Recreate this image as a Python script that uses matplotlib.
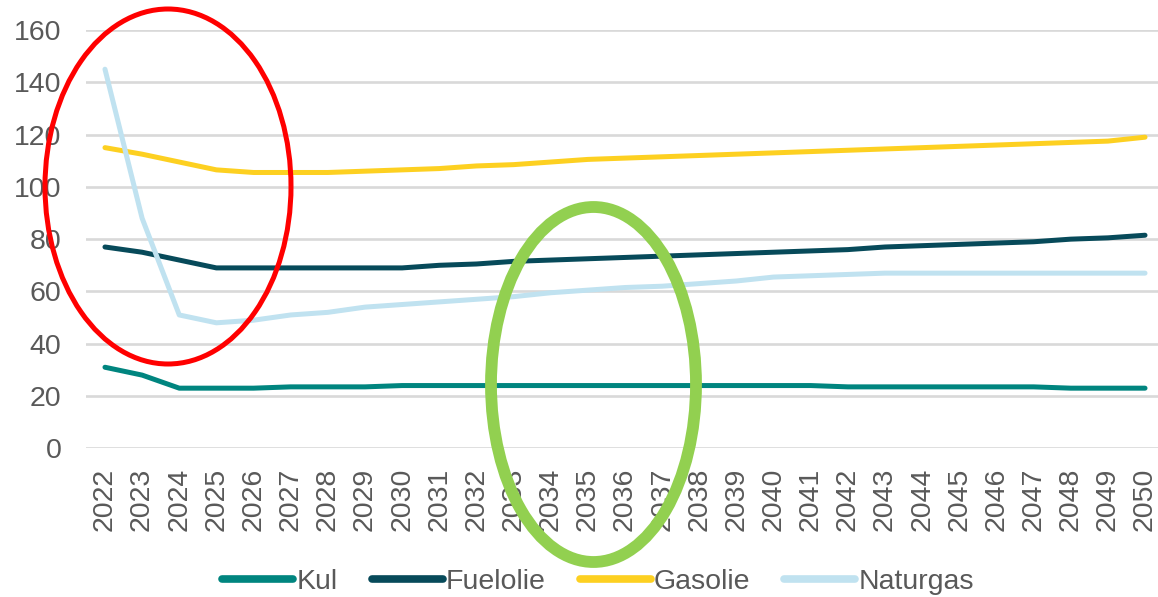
import matplotlib
matplotlib.use("Agg")
import matplotlib.pyplot as plt
from matplotlib.patches import Ellipse

years = list(range(2022, 2051))
kul = [31, 28, 23, 23, 23, 23.5, 23.5, 23.5, 24, 24, 24, 24, 24, 24, 24, 24, 24, 24, 24,
       24, 23.5, 23.5, 23.5, 23.5, 23.5, 23.5, 23, 23, 23]
fuelolie = [77, 75, 72, 69, 69, 69, 69, 69, 69, 70, 70.5, 71.5, 72, 72.5, 73, 73.5, 74,
            74.5, 75, 75.5, 76, 77, 77.5, 78, 78.5, 79, 80, 80.5, 81.5]
gasolie = [115, 112.5, 109.5, 106.5, 105.5, 105.5, 105.5, 106, 106.5, 107, 108, 108.5,
           109.5, 110.5, 111, 111.5, 112, 112.5, 113, 113.5, 114, 114.5, 115, 115.5, 116,
           116.5, 117, 117.5, 119]
naturgas = [145, 88, 51, 48, 49, 51, 52, 54, 55, 56, 57, 58, 59.5, 60.5, 61.5, 62, 63, 64,
            65.5, 66, 66.5, 67, 67, 67, 67, 67, 67, 67, 67]

series = [("Kul", kul, "#00857f"), ("Fuelolie", fuelolie, "#074a5a"),
          ("Gasolie", gasolie, "#fdd021"), ("Naturgas", naturgas, "#c0e2f0")]

W, H = 1158, 597
fig = plt.figure(figsize=(W / 100, H / 100), dpi=100)
plt.rcParams['font.family'] = ['Liberation Sans', 'DejaVu Sans']
ax = fig.add_axes([86.4 / W, 1 - 448.3 / H, 1077.2 / W, 418.3 / H])

for name, vals, col in series:
    ax.plot(years, vals, color=col, lw=3.6, label=name, solid_capstyle='round',
            solid_joinstyle='round')

ax.set_xlim(2021.5, 2050.5)
ax.set_ylim(0, 160)
ax.set_yticks(range(0, 161, 20))
ax.set_xticks(years)
ax.set_xticklabels([str(y) for y in years], rotation=90)
ax.grid(axis='y', color='#d9d9d9', lw=1.9)
ax.set_axisbelow(True)
for s in ['top', 'right', 'left', 'bottom']:
    ax.spines[s].set_visible(False)
ax.tick_params(axis='both', length=0, labelsize=20.5, labelcolor='#595959')
ax.tick_params(axis='x', pad=14)
ax.tick_params(axis='y', pad=18)

leg = fig.legend(loc='center', bbox_to_anchor=(598 / W, 1 - 582 / H), ncol=4,
                 frameon=False, fontsize=20.5, handlelength=2.5, handletextpad=0.1,
                 columnspacing=1.2, labelcolor='#595959')
for line in leg.get_lines():
    line.set_linewidth(5.5)
    line.set_solid_capstyle('round')

red = Ellipse((168 / W, 1 - 186.5 / H), 246 / W, 355 / H, transform=fig.transFigure,
              fill=False, edgecolor='#ff0000', lw=3.6, clip_on=False)
green = Ellipse((593.5 / W, 1 - 384.5 / H), 205 / W, 355 / H, transform=fig.transFigure,
                fill=False, edgecolor='#92d050', lw=8.5, clip_on=False)
fig.add_artist(red)
fig.add_artist(green)

fig.savefig("out.png", dpi=100)
